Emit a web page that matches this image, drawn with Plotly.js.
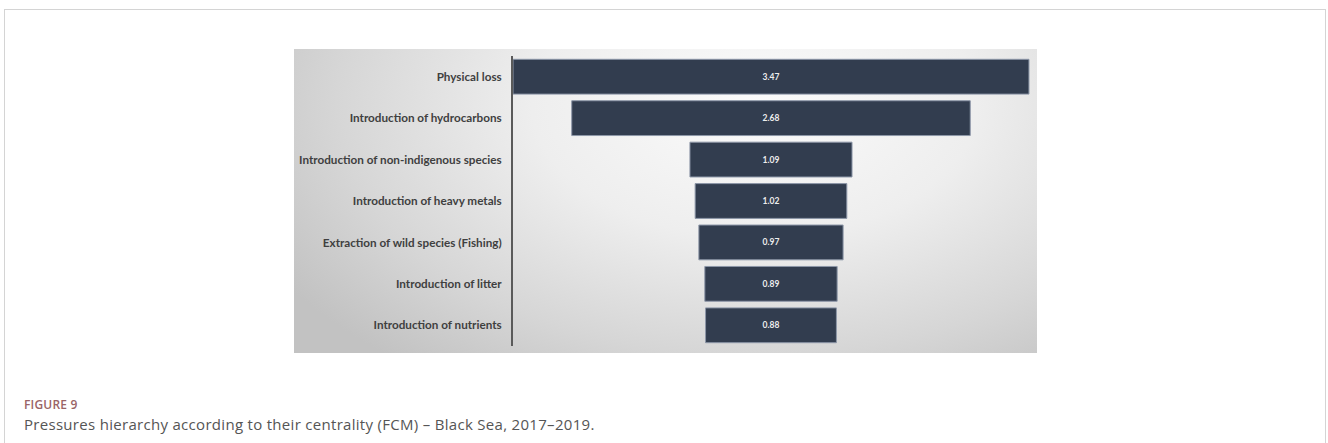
<!DOCTYPE html>
<html>
<head>
<meta charset="utf-8">
<script src="https://cdn.plot.ly/plotly-3.0.1.min.js"></script>
<style>
  html, body { margin: 0; padding: 0; background: #ffffff; width: 1328px; height: 443px; overflow: hidden; }
  #frame { position: absolute; left: 4px; top: 9px; width: 1322px; height: 460px; border: 1px solid #d4d4d4; box-sizing: border-box; }
  #chart { position: absolute; left: 294px; top: 49px; width: 743px; height: 304px;
    background: radial-gradient(ellipse 75% 110% at 62% 18%, #fbfbfb 0%, #eeeeee 40%, #d6d6d6 75%, #c2c2c2 100%); }
  #figlabel { position: absolute; left: 24px; top: 396px; font-family: "Open Sans", sans-serif; font-weight: 600; font-size: 12px; color: #9a6466; letter-spacing: 0.2px; }
  #caption { position: absolute; left: 24px; top: 414px; font-family: "Open Sans", sans-serif; font-weight: 400; font-size: 15px; color: #555555; letter-spacing: 0.3px; }
</style>
</head>
<body>
<div id="frame"></div>
<div id="chart"></div>
<div id="figlabel">FIGURE 9</div>
<div id="caption">Pressures hierarchy according to their centrality (FCM) – Black Sea, 2017–2019.</div>
<script>
const categories = [
  "Physical loss",
  "Introduction of hydrocarbons",
  "Introduction of non-indigenous species",
  "Introduction of heavy metals",
  "Extraction of wild species (Fishing)",
  "Introduction of litter",
  "Introduction of nutrients"
];
const centrality = [3.47, 2.68, 1.09, 1.02, 0.97, 0.89, 0.88];

const trace = {
  type: "funnel",
  orientation: "h",
  y: categories,
  x: centrality,
  texttemplate: "%{x:.2f}",
  textposition: "inside",
  insidetextanchor: "middle",
  textfont: { family: "Lato, sans-serif", size: 8.5, color: "#eeeeee", weight: "bold" },
  marker: { color: "#323d4f", line: { color: "#8d97a8", width: 1 } },
  connector: { visible: false },
  hoverinfo: "skip"
};

const layout = {
  width: 743,
  height: 304,
  margin: { l: 219, r: 0, t: 7, b: 7, pad: 0 },
  paper_bgcolor: "rgba(0,0,0,0)",
  plot_bgcolor: "rgba(0,0,0,0)",
  funnelgap: 0.16,
  showlegend: false,
  xaxis: { visible: false, range: [-1.735, 1.789], fixedrange: true },
  yaxis: {
    type: "category",
    categoryorder: "array",
    categoryarray: categories,
    autorange: "reversed",
    showline: true,
    linecolor: "#5a5a5a",
    linewidth: 2,
    showgrid: false,
    zeroline: false,
    ticks: "",
    ticklabelstandoff: 7,
    tickfont: { family: "Lato, sans-serif", size: 11.7, color: "#3f3f3f", weight: "bold" }
  }
};

Plotly.newPlot("chart", [trace], layout, { displayModeBar: false, staticPlot: true });
</script>
</body>
</html>
